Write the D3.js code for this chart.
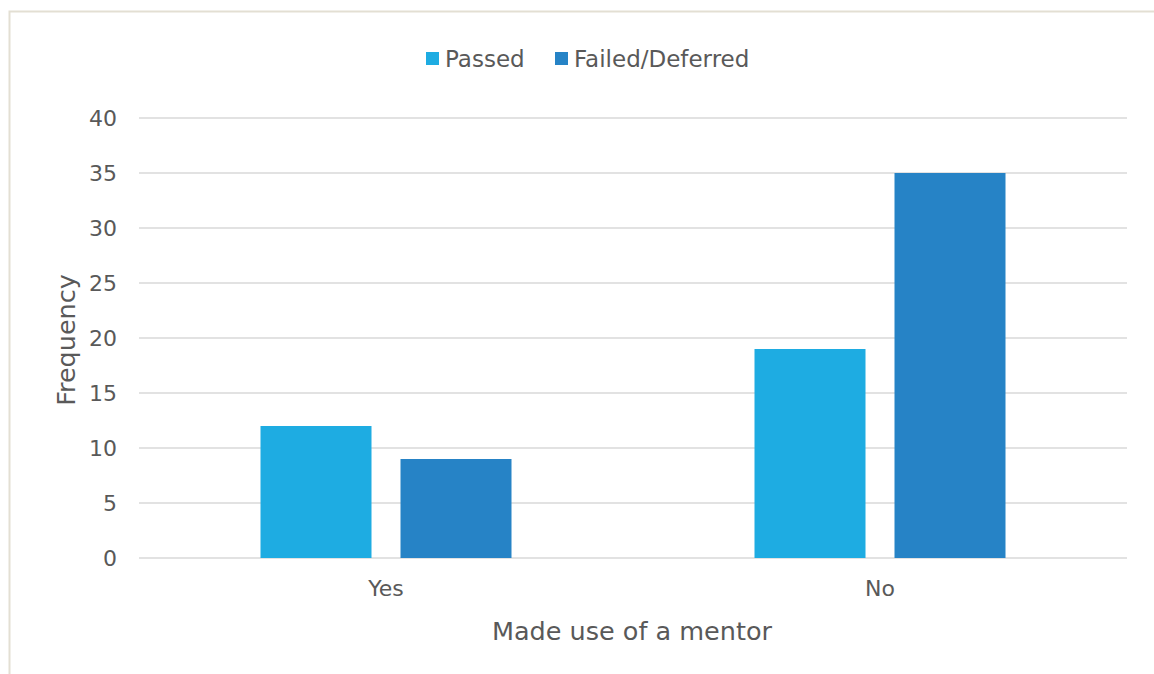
<!DOCTYPE html>
<html>
<head>
<meta charset="utf-8">
<script src="https://d3js.org/d3.v7.min.js"></script>
<style>
  html, body { margin: 0; padding: 0; background: #ffffff; }
  svg { display: block; }
  text { font-family: "DejaVu Sans", sans-serif; fill: #595959; }
</style>
</head>
<body>
<svg id="chart" width="1154" height="674"></svg>
<script>
// Frequencies by mentor use and exam outcome
const categories = ["Yes", "No"];
const seriesNames = ["Passed", "Failed/Deferred"];
const passed = [12, 19];
const failedDeferred = [9, 35];
const yTicks = [0, 5, 10, 15, 20, 25, 30, 35, 40];
const colors = ["#1eace2", "#2683c6"];

const FONT = "'DejaVu Sans', sans-serif";
const svg = d3.select("#chart");
const W = 1154, H = 674;

// Chart-area frame
svg.append("rect")
  .attr("x", 9.5).attr("y", 11.5)
  .attr("width", W + 20).attr("height", H + 20)
  .attr("fill", "#ffffff")
  .attr("stroke", "#e3dfd3").attr("stroke-width", 2);

const plot = { left: 139, right: 1127, top: 118, bottom: 558 };

const x0 = d3.scaleBand()
  .domain(categories)
  .range([plot.left, plot.right])
  .paddingInner(0).paddingOuter(0);

const barW = 111, barGap = 29;
const x1 = d3.scaleBand()
  .domain(seriesNames)
  .range([0, barW * 2 + barGap])
  .paddingInner(barGap / (barW + barGap))
  .paddingOuter(0);

const y = d3.scaleLinear().domain([0, 40]).range([plot.bottom, plot.top]);

// Gridlines
svg.append("g")
  .selectAll("line")
  .data(yTicks)
  .join("line")
  .attr("x1", plot.left).attr("x2", plot.right)
  .attr("y1", d => y(d)).attr("y2", d => y(d))
  .attr("stroke", "#d9d9d9").attr("stroke-width", 1.5);

// Y axis labels
const yAxis = d3.axisLeft(y).tickValues(yTicks).tickSize(0).tickPadding(0);
const gy = svg.append("g")
  .attr("transform", `translate(${plot.left - 22},0)`)
  .call(yAxis);
gy.select(".domain").remove();
gy.selectAll("text")
  .style("font-size", "22px")
  .attr("fill", "#595959")
  .style("font-family", FONT);

// Bars
const groupOffset = (x0.bandwidth() - (barW * 2 + barGap)) / 2;
const rows = categories.map((c, i) => ({
  category: c,
  values: [
    { series: seriesNames[0], value: passed[i] },
    { series: seriesNames[1], value: failedDeferred[i] }
  ]
}));

svg.append("g")
  .selectAll("g")
  .data(rows)
  .join("g")
  .attr("transform", d => `translate(${x0(d.category) + groupOffset},0)`)
  .selectAll("rect")
  .data(d => d.values)
  .join("rect")
  .attr("x", d => x1(d.series))
  .attr("width", x1.bandwidth())
  .attr("y", d => y(d.value))
  .attr("height", d => y(0) - y(d.value))
  .attr("fill", (d, i) => colors[i]);

// X axis labels
const xAxis = d3.axisBottom(x0).tickSize(0).tickPadding(0);
const gx = svg.append("g")
  .attr("transform", `translate(0,${plot.bottom + 22})`)
  .call(xAxis);
gx.select(".domain").remove();
gx.selectAll("text")
  .style("font-size", "22px")
  .attr("fill", "#595959")
  .style("font-family", FONT);

// Axis titles
svg.append("text")
  .attr("x", 632)
  .attr("y", 640)
  .attr("text-anchor", "middle")
  .style("font-size", "25.5px")
  .text("Made use of a mentor");

svg.append("text")
  .attr("transform", `translate(75,340) rotate(-90)`)
  .attr("text-anchor", "middle")
  .style("font-size", "25.5px")
  .text("Frequency");

// Legend
const legendItems = [
  { name: seriesNames[0], x: 426 },
  { name: seriesNames[1], x: 555 }
];
const lg = svg.append("g");
lg.selectAll("rect")
  .data(legendItems)
  .join("rect")
  .attr("x", d => d.x).attr("y", 52)
  .attr("width", 13).attr("height", 13)
  .attr("fill", (d, i) => colors[i]);
lg.selectAll("text")
  .data(legendItems)
  .join("text")
  .attr("x", d => d.x + 19)
  .attr("y", 67)
  .style("font-size", "23px")
  .text(d => d.name);
</script>
</body>
</html>
